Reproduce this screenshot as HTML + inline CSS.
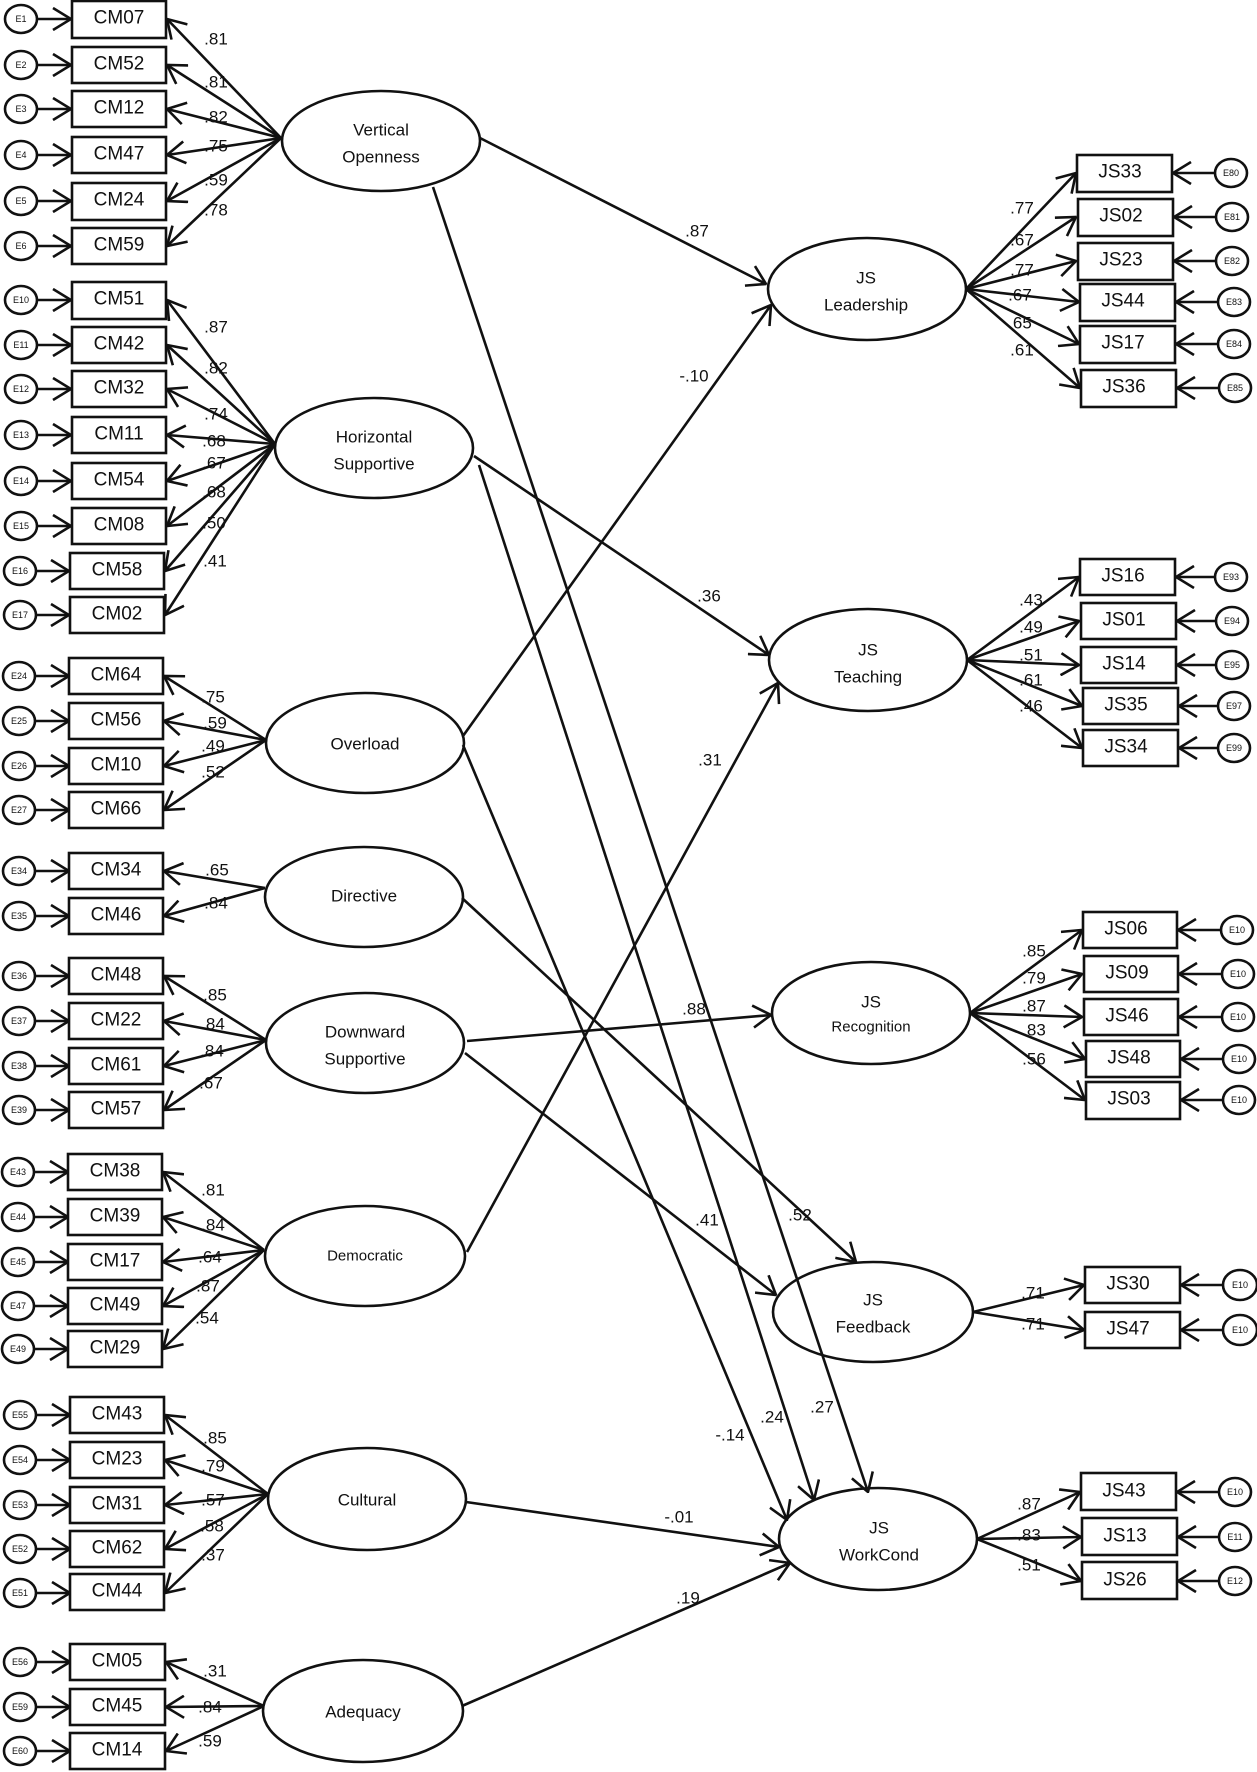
<!DOCTYPE html>
<html><head><meta charset="utf-8"><style>
html,body{margin:0;padding:0;background:#fff}
svg{display:block}
text{font-family:"Liberation Sans",sans-serif;fill:#111}
.b{font-size:19px}
.l{font-size:17px}
.n{font-size:17px}
.e{font-size:9px}
</style></head><body>
<svg width="1257" height="1772" viewBox="0 0 1257 1772" xmlns="http://www.w3.org/2000/svg">
<defs>
<marker id="a" viewBox="0 0 20 24" refX="19" refY="12" markerWidth="20" markerHeight="24" markerUnits="userSpaceOnUse" orient="auto">
<path d="M1,1 L19,12 L1,23" fill="none" stroke="#111" stroke-width="2.6"/>
</marker>
</defs>
<g stroke="#111" stroke-width="2.6" fill="none">
<!-- left error circles -->
<g>
<ellipse cx="21" cy="19" rx="16" ry="14"/><ellipse cx="21" cy="65" rx="16" ry="14"/><ellipse cx="21" cy="109" rx="16" ry="14"/><ellipse cx="21" cy="155" rx="16" ry="14"/><ellipse cx="21" cy="201" rx="16" ry="14"/><ellipse cx="21" cy="246" rx="16" ry="14"/>
<ellipse cx="21" cy="300" rx="16" ry="14"/><ellipse cx="21" cy="345" rx="16" ry="14"/><ellipse cx="21" cy="389" rx="16" ry="14"/><ellipse cx="21" cy="435" rx="16" ry="14"/><ellipse cx="21" cy="481" rx="16" ry="14"/><ellipse cx="21" cy="526" rx="16" ry="14"/><ellipse cx="20" cy="571" rx="16" ry="14"/><ellipse cx="20" cy="615" rx="16" ry="14"/>
<ellipse cx="19" cy="676" rx="16" ry="14"/><ellipse cx="19" cy="721" rx="16" ry="14"/><ellipse cx="19" cy="766" rx="16" ry="14"/><ellipse cx="19" cy="810" rx="16" ry="14"/>
<ellipse cx="19" cy="871" rx="16" ry="14"/><ellipse cx="19" cy="916" rx="16" ry="14"/>
<ellipse cx="19" cy="976" rx="16" ry="14"/><ellipse cx="19" cy="1021" rx="16" ry="14"/><ellipse cx="19" cy="1066" rx="16" ry="14"/><ellipse cx="19" cy="1110" rx="16" ry="14"/>
<ellipse cx="18" cy="1172" rx="16" ry="14"/><ellipse cx="18" cy="1217" rx="16" ry="14"/><ellipse cx="18" cy="1262" rx="16" ry="14"/><ellipse cx="18" cy="1306" rx="16" ry="14"/><ellipse cx="18" cy="1349" rx="16" ry="14"/>
<ellipse cx="20" cy="1415" rx="16" ry="14"/><ellipse cx="20" cy="1460" rx="16" ry="14"/><ellipse cx="20" cy="1505" rx="16" ry="14"/><ellipse cx="20" cy="1549" rx="16" ry="14"/><ellipse cx="20" cy="1593" rx="16" ry="14"/>
<ellipse cx="20" cy="1662" rx="16" ry="14"/><ellipse cx="20" cy="1707" rx="16" ry="14"/><ellipse cx="20" cy="1751" rx="16" ry="14"/>
</g>
<!-- left error arrows -->
<g marker-end="url(#a)">
<path d="M37,19H71"/><path d="M37,65H71"/><path d="M37,109H71"/><path d="M37,155H71"/><path d="M37,201H71"/><path d="M37,246H71"/>
<path d="M37,300H71"/><path d="M37,345H71"/><path d="M37,389H71"/><path d="M37,435H71"/><path d="M37,481H71"/><path d="M37,526H71"/><path d="M36,571H69"/><path d="M36,615H69"/>
<path d="M35,676H69"/><path d="M35,721H69"/><path d="M35,766H69"/><path d="M35,810H69"/>
<path d="M35,871H69"/><path d="M35,916H69"/>
<path d="M35,976H69"/><path d="M35,1021H69"/><path d="M35,1066H69"/><path d="M35,1110H69"/>
<path d="M34,1172H68"/><path d="M34,1217H68"/><path d="M34,1262H68"/><path d="M34,1306H68"/><path d="M34,1349H68"/>
<path d="M36,1415H70"/><path d="M36,1460H70"/><path d="M36,1505H70"/><path d="M36,1549H70"/><path d="M36,1593H70"/>
<path d="M36,1662H70"/><path d="M36,1707H70"/><path d="M36,1751H70"/>
</g>
<!-- left boxes -->
<g>
<rect x="72" y="1" width="94" height="37"/><rect x="72" y="47" width="94" height="36"/><rect x="72" y="91" width="94" height="36"/><rect x="72" y="137" width="94" height="36"/><rect x="72" y="183" width="94" height="37"/><rect x="72" y="228" width="94" height="36"/>
<rect x="72" y="282" width="94" height="37"/><rect x="72" y="327" width="94" height="36"/><rect x="72" y="371" width="94" height="36"/><rect x="72" y="417" width="94" height="36"/><rect x="72" y="463" width="94" height="36"/><rect x="72" y="508" width="94" height="36"/><rect x="70" y="553" width="94" height="36"/><rect x="70" y="597" width="94" height="36"/>
<rect x="69" y="658" width="94" height="36"/><rect x="69" y="703" width="94" height="36"/><rect x="69" y="748" width="94" height="36"/><rect x="69" y="792" width="94" height="36"/>
<rect x="69" y="853" width="94" height="36"/><rect x="69" y="898" width="94" height="36"/>
<rect x="69" y="958" width="94" height="36"/><rect x="69" y="1003" width="94" height="36"/><rect x="69" y="1048" width="94" height="36"/><rect x="69" y="1092" width="94" height="36"/>
<rect x="68" y="1154" width="94" height="36"/><rect x="68" y="1199" width="94" height="36"/><rect x="68" y="1244" width="94" height="36"/><rect x="68" y="1288" width="94" height="36"/><rect x="68" y="1331" width="94" height="36"/>
<rect x="70" y="1397" width="94" height="36"/><rect x="70" y="1442" width="94" height="36"/><rect x="70" y="1487" width="94" height="36"/><rect x="70" y="1531" width="94" height="36"/><rect x="70" y="1574" width="94" height="36"/>
<rect x="70" y="1644" width="95" height="36"/><rect x="70" y="1689" width="95" height="36"/><rect x="70" y="1733" width="95" height="36"/>
</g>
<!-- latent ellipses -->
<ellipse cx="381" cy="141" rx="99" ry="50"/>
<ellipse cx="374" cy="448" rx="99" ry="50"/>
<ellipse cx="365" cy="743" rx="99" ry="50"/>
<ellipse cx="364" cy="897" rx="99" ry="50"/>
<ellipse cx="365" cy="1043" rx="99" ry="50"/>
<ellipse cx="365" cy="1256" rx="100" ry="50"/>
<ellipse cx="367" cy="1499" rx="99" ry="51"/>
<ellipse cx="363" cy="1711" rx="100" ry="51"/>
<ellipse cx="867" cy="289" rx="99" ry="51"/>
<ellipse cx="868" cy="660" rx="99" ry="51"/>
<ellipse cx="871" cy="1013" rx="99" ry="51"/>
<ellipse cx="873" cy="1312" rx="100" ry="50"/>
<ellipse cx="878" cy="1539" rx="99" ry="51"/>
<!-- left loadings -->
<g marker-end="url(#a)">
<path d="M281,138L167,19"/><path d="M281,138L167,65"/><path d="M281,138L167,109"/><path d="M281,138L167,155"/><path d="M281,138L167,201"/><path d="M281,138L167,246"/>
<path d="M275,444L167,300"/><path d="M275,444L167,345"/><path d="M275,444L167,389"/><path d="M275,444L167,435"/><path d="M275,444L167,481"/><path d="M275,444L167,526"/><path d="M275,444L165,571"/><path d="M275,444L165,615"/>
<path d="M266,740L164,676"/><path d="M266,740L164,721"/><path d="M266,740L164,766"/><path d="M266,740L164,810"/>
<path d="M265,888L164,871"/><path d="M265,888L164,916"/>
<path d="M266,1040L164,976"/><path d="M266,1040L164,1021"/><path d="M266,1040L164,1066"/><path d="M266,1040L164,1110"/>
<path d="M264,1250L163,1172"/><path d="M264,1250L163,1217"/><path d="M264,1250L163,1262"/><path d="M264,1250L163,1306"/><path d="M264,1250L163,1349"/>
<path d="M268,1494L165,1415"/><path d="M268,1494L165,1460"/><path d="M268,1494L165,1505"/><path d="M268,1494L165,1549"/><path d="M268,1494L165,1593"/>
<path d="M264,1706L166,1662"/><path d="M264,1706L166,1707"/><path d="M264,1706L166,1751"/>
</g>
<!-- structural paths -->
<g marker-end="url(#a)">
<path d="M480,138L766,284"/>
<path d="M433,187L868,1492"/>
<path d="M474,456L769,655"/>
<path d="M479,465L814,1500"/>
<path d="M463,736L771,305"/>
<path d="M463,745L787,1520"/>
<path d="M462,898L856,1262"/>
<path d="M467,1041L771,1015"/>
<path d="M465,1053L776,1295"/>
<path d="M467,1252L778,683"/>
<path d="M466,1502L779,1547"/>
<path d="M462,1706L790,1563"/>
</g>
<!-- right loadings -->
<g marker-end="url(#a)">
<path d="M966,289L1076,173"/><path d="M966,289L1076,217"/><path d="M966,289L1076,261"/><path d="M966,289L1079,302"/><path d="M966,289L1079,344"/><path d="M966,289L1080,388"/>
<path d="M967,660L1079,577"/><path d="M967,660L1079,621"/><path d="M967,660L1079,665"/><path d="M967,660L1082,706"/><path d="M967,660L1082,748"/>
<path d="M970,1013L1082,930"/><path d="M970,1013L1082,974"/><path d="M970,1013L1082,1017"/><path d="M970,1013L1085,1059"/><path d="M970,1013L1085,1100"/>
<path d="M973,1312L1084,1285"/><path d="M973,1312L1084,1330"/>
<path d="M977,1539L1080,1492"/><path d="M977,1539L1081,1537"/><path d="M977,1539L1081,1581"/>
</g>
<!-- right boxes -->
<g>
<rect x="1077" y="155" width="95" height="37"/><rect x="1078" y="199" width="95" height="37"/><rect x="1078" y="243" width="95" height="37"/><rect x="1080" y="284" width="95" height="37"/><rect x="1080" y="326" width="95" height="37"/><rect x="1081" y="370" width="95" height="37"/>
<rect x="1080" y="559" width="95" height="36"/><rect x="1081" y="603" width="95" height="36"/><rect x="1081" y="647" width="95" height="36"/><rect x="1083" y="688" width="95" height="36"/><rect x="1083" y="730" width="95" height="36"/>
<rect x="1083" y="912" width="94" height="36"/><rect x="1084" y="956" width="94" height="36"/><rect x="1084" y="999" width="94" height="36"/><rect x="1086" y="1041" width="94" height="36"/><rect x="1086" y="1082" width="94" height="37"/>
<rect x="1085" y="1267" width="95" height="36"/><rect x="1085" y="1312" width="95" height="36"/>
<rect x="1081" y="1473" width="95" height="37"/><rect x="1082" y="1518" width="95" height="37"/><rect x="1082" y="1562" width="95" height="37"/>
</g>
<!-- right errors -->
<g>
<ellipse cx="1231" cy="173" rx="16" ry="14"/><ellipse cx="1232" cy="217" rx="16" ry="14"/><ellipse cx="1232" cy="261" rx="16" ry="14"/><ellipse cx="1234" cy="302" rx="16" ry="14"/><ellipse cx="1234" cy="344" rx="16" ry="14"/><ellipse cx="1235" cy="388" rx="16" ry="14"/>
<ellipse cx="1231" cy="577" rx="16" ry="14"/><ellipse cx="1232" cy="621" rx="16" ry="14"/><ellipse cx="1232" cy="665" rx="16" ry="14"/><ellipse cx="1234" cy="706" rx="16" ry="14"/><ellipse cx="1234" cy="748" rx="16" ry="14"/>
<ellipse cx="1237" cy="930" rx="16" ry="14"/><ellipse cx="1238" cy="974" rx="16" ry="14"/><ellipse cx="1238" cy="1017" rx="16" ry="14"/><ellipse cx="1239" cy="1059" rx="16" ry="14"/><ellipse cx="1239" cy="1100" rx="16" ry="14"/>
<ellipse cx="1240" cy="1285" rx="17" ry="15"/><ellipse cx="1240" cy="1330" rx="17" ry="15"/>
<ellipse cx="1235" cy="1492" rx="16" ry="14"/><ellipse cx="1235" cy="1537" rx="16" ry="14"/><ellipse cx="1235" cy="1581" rx="16" ry="14"/>
</g>
<g marker-end="url(#a)">
<path d="M1215,173H1173"/><path d="M1216,217H1174"/><path d="M1216,261H1174"/><path d="M1218,302H1176"/><path d="M1218,344H1176"/><path d="M1219,388H1177"/>
<path d="M1215,577H1176"/><path d="M1216,621H1177"/><path d="M1216,665H1177"/><path d="M1218,706H1179"/><path d="M1218,748H1179"/>
<path d="M1221,930H1178"/><path d="M1222,974H1179"/><path d="M1222,1017H1179"/><path d="M1223,1059H1181"/><path d="M1223,1100H1181"/>
<path d="M1223,1285H1181"/><path d="M1223,1330H1181"/>
<path d="M1219,1492H1177"/><path d="M1219,1537H1178"/><path d="M1219,1581H1178"/>
</g>
</g>
<!-- text -->
<g class="e" text-anchor="middle" dominant-baseline="central">
<text x="21" y="19">E1</text><text x="21" y="65">E2</text><text x="21" y="109">E3</text><text x="21" y="155">E4</text><text x="21" y="201">E5</text><text x="21" y="246">E6</text>
<text x="21" y="300">E10</text><text x="21" y="345">E11</text><text x="21" y="389">E12</text><text x="21" y="435">E13</text><text x="21" y="481">E14</text><text x="21" y="526">E15</text><text x="20" y="571">E16</text><text x="20" y="615">E17</text>
<text x="19" y="676">E24</text><text x="19" y="721">E25</text><text x="19" y="766">E26</text><text x="19" y="810">E27</text>
<text x="19" y="871">E34</text><text x="19" y="916">E35</text>
<text x="19" y="976">E36</text><text x="19" y="1021">E37</text><text x="19" y="1066">E38</text><text x="19" y="1110">E39</text>
<text x="18" y="1172">E43</text><text x="18" y="1217">E44</text><text x="18" y="1262">E45</text><text x="18" y="1306">E47</text><text x="18" y="1349">E49</text>
<text x="20" y="1415">E55</text><text x="20" y="1460">E54</text><text x="20" y="1505">E53</text><text x="20" y="1549">E52</text><text x="20" y="1593">E51</text>
<text x="20" y="1662">E56</text><text x="20" y="1707">E59</text><text x="20" y="1751">E60</text>
<text x="1231" y="173">E80</text><text x="1232" y="217">E81</text><text x="1232" y="261">E82</text><text x="1234" y="302">E83</text><text x="1234" y="344">E84</text><text x="1235" y="388">E85</text>
<text x="1231" y="577">E93</text><text x="1232" y="621">E94</text><text x="1232" y="665">E95</text><text x="1234" y="706">E97</text><text x="1234" y="748">E99</text>
<text x="1237" y="930">E10</text><text x="1238" y="974">E10</text><text x="1238" y="1017">E10</text><text x="1239" y="1059">E10</text><text x="1239" y="1100">E10</text>
<text x="1240" y="1285">E10</text><text x="1240" y="1330">E10</text>
<text x="1235" y="1492">E10</text><text x="1235" y="1537">E11</text><text x="1235" y="1581">E12</text>
</g>
<g class="b" text-anchor="middle" dominant-baseline="central">
<text x="119" y="18">CM07</text><text x="119" y="64">CM52</text><text x="119" y="108">CM12</text><text x="119" y="154">CM47</text><text x="119" y="200">CM24</text><text x="119" y="245">CM59</text>
<text x="119" y="299">CM51</text><text x="119" y="344">CM42</text><text x="119" y="388">CM32</text><text x="119" y="434">CM11</text><text x="119" y="480">CM54</text><text x="119" y="525">CM08</text><text x="117" y="570">CM58</text><text x="117" y="614">CM02</text>
<text x="116" y="675">CM64</text><text x="116" y="720">CM56</text><text x="116" y="765">CM10</text><text x="116" y="809">CM66</text>
<text x="116" y="870">CM34</text><text x="116" y="915">CM46</text>
<text x="116" y="975">CM48</text><text x="116" y="1020">CM22</text><text x="116" y="1065">CM61</text><text x="116" y="1109">CM57</text>
<text x="115" y="1171">CM38</text><text x="115" y="1216">CM39</text><text x="115" y="1261">CM17</text><text x="115" y="1305">CM49</text><text x="115" y="1348">CM29</text>
<text x="117" y="1414">CM43</text><text x="117" y="1459">CM23</text><text x="117" y="1504">CM31</text><text x="117" y="1548">CM62</text><text x="117" y="1591">CM44</text>
<text x="117" y="1661">CM05</text><text x="117" y="1706">CM45</text><text x="117" y="1750">CM14</text>
<text x="1120" y="172">JS33</text><text x="1121" y="216">JS02</text><text x="1121" y="260">JS23</text><text x="1123" y="301">JS44</text><text x="1123" y="343">JS17</text><text x="1124" y="387">JS36</text>
<text x="1123" y="576">JS16</text><text x="1124" y="620">JS01</text><text x="1124" y="664">JS14</text><text x="1126" y="705">JS35</text><text x="1126" y="747">JS34</text>
<text x="1126" y="929">JS06</text><text x="1127" y="973">JS09</text><text x="1127" y="1016">JS46</text><text x="1129" y="1058">JS48</text><text x="1129" y="1099">JS03</text>
<text x="1128" y="1284">JS30</text><text x="1128" y="1329">JS47</text>
<text x="1124" y="1491">JS43</text><text x="1125" y="1536">JS13</text><text x="1125" y="1580">JS26</text>
</g>
<g class="l" text-anchor="middle" dominant-baseline="central">
<text x="381" y="130">Vertical</text><text x="381" y="157">Openness</text>
<text x="374" y="437">Horizontal</text><text x="374" y="464">Supportive</text>
<text x="365" y="744">Overload</text>
<text x="364" y="896">Directive</text>
<text x="365" y="1032">Downward</text><text x="365" y="1059">Supportive</text>
<text x="365" y="1256" style="font-size:15px">Democratic</text>
<text x="367" y="1500">Cultural</text>
<text x="363" y="1712">Adequacy</text>
<text x="866" y="278">JS</text><text x="866" y="305">Leadership</text>
<text x="868" y="650">JS</text><text x="868" y="677">Teaching</text>
<text x="871" y="1002">JS</text><text x="871" y="1027" style="font-size:15px">Recognition</text>
<text x="873" y="1300">JS</text><text x="873" y="1327">Feedback</text>
<text x="879" y="1528">JS</text><text x="879" y="1555">WorkCond</text>
</g>
<g class="n" text-anchor="middle" dominant-baseline="central">
<text x="216" y="39">.81</text><text x="216" y="82">.81</text><text x="216" y="117">.82</text><text x="216" y="146">.75</text><text x="216" y="180">.59</text><text x="216" y="210">.78</text>
<text x="216" y="327">.87</text><text x="216" y="368">.82</text><text x="216" y="414">.74</text><text x="214" y="441">.68</text><text x="214" y="463">.67</text><text x="214" y="492">.68</text><text x="214" y="523">.50</text><text x="215" y="561">.41</text>
<text x="213" y="697">.75</text><text x="215" y="723">.59</text><text x="213" y="746">.49</text><text x="213" y="772">.52</text>
<text x="217" y="870">.65</text><text x="216" y="903">.84</text>
<text x="215" y="995">.85</text><text x="213" y="1024">.84</text><text x="212" y="1051">.84</text><text x="211" y="1083">.67</text>
<text x="213" y="1190">.81</text><text x="213" y="1225">.84</text><text x="210" y="1257">.64</text><text x="208" y="1286">.87</text><text x="207" y="1318">.54</text>
<text x="215" y="1438">.85</text><text x="213" y="1466">.79</text><text x="213" y="1500">.57</text><text x="212" y="1526">.58</text><text x="213" y="1555">.37</text>
<text x="215" y="1671">.31</text><text x="210" y="1707">.84</text><text x="210" y="1741">.59</text>
<text x="1022" y="208">.77</text><text x="1022" y="240">.67</text><text x="1022" y="270">.77</text><text x="1020" y="295">.67</text><text x="1020" y="323">.65</text><text x="1022" y="350">.61</text>
<text x="1031" y="600">.43</text><text x="1031" y="627">.49</text><text x="1031" y="655">.51</text><text x="1031" y="680">.61</text><text x="1031" y="706">.46</text>
<text x="1034" y="951">.85</text><text x="1034" y="978">.79</text><text x="1034" y="1006">.87</text><text x="1034" y="1030">.83</text><text x="1034" y="1059">.56</text>
<text x="1033" y="1293">.71</text><text x="1033" y="1324">.71</text>
<text x="1029" y="1504">.87</text><text x="1029" y="1535">.83</text><text x="1029" y="1565">.51</text>
<text x="697" y="231">.87</text>
<text x="694" y="376">-.10</text>
<text x="709" y="596">.36</text>
<text x="710" y="760">.31</text>
<text x="694" y="1009">.88</text>
<text x="707" y="1220">.41</text>
<text x="800" y="1215">.52</text>
<text x="822" y="1407">.27</text>
<text x="772" y="1417">.24</text>
<text x="730" y="1435">-.14</text>
<text x="679" y="1517">-.01</text>
<text x="688" y="1598">.19</text>
</g>
</svg>
</body></html>
